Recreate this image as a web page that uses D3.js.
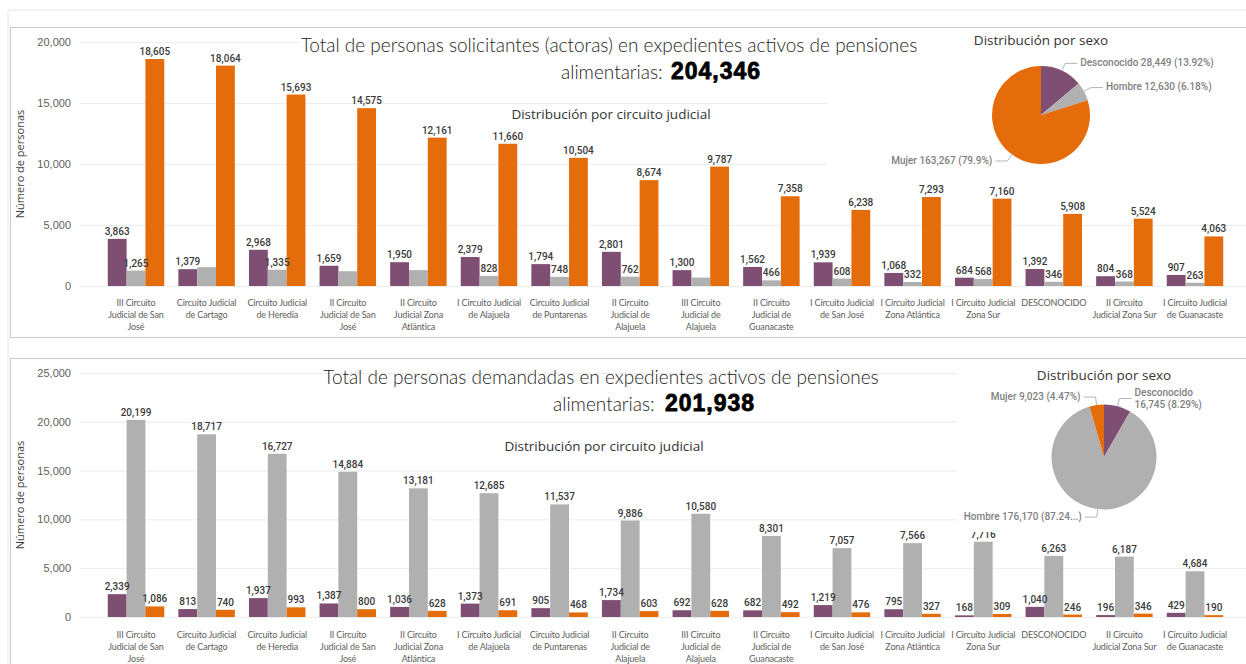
<!DOCTYPE html>
<html lang="es">
<head>
<meta charset="UTF-8">
<title>Pensiones alimentarias</title>
<script src="https://cdn.jsdelivr.net/npm/d3@7"></script>
<style>
  body { margin: 0; background: #fff; }
  svg { display: block; font-family: "Open Sans", sans-serif; }
  .grid line { stroke: #ececec; }
  .ytick { font-size: 11px; fill: #605E5C; }
  .xtick { font-family: Lato, sans-serif; font-size: 9px; letter-spacing: -0.15px; fill: #605E5C; }
  .dl { font-family: Roboto, sans-serif; font-size: 10px; fill: #3a3a3a; font-weight: 500; }
  .title { font-family: Lato, sans-serif; font-weight: 300; font-size: 19px; fill: #252423; }
  .total { font-family: "Liberation Sans", Arial, sans-serif; font-weight: 700; font-size: 23px; fill: #000; stroke: #000; stroke-width: 0.8px; letter-spacing: 1px; }
  .subtitle { font-family: "Open Sans", sans-serif; font-size: 13.5px; fill: #333; }
  .pl { font-family: Roboto, sans-serif; font-size: 10px; fill: #7f7f7f; font-weight: 500; }
</style>
</head>
<body>
<div id="chart"></div>
<script>
// categories (with the line breaks shown under the bars)
const categories = [
  "III Circuito\nJudicial de San\nJosé",
  "Circuito Judicial\nde Cartago",
  "Circuito Judicial\nde Heredia",
  "II Circuito\nJudicial de San\nJosé",
  "II Circuito\nJudicial Zona\nAtlántica",
  "I Circuito Judicial\nde Alajuela",
  "Circuito Judicial\nde Puntarenas",
  "II Circuito\nJudicial de\nAlajuela",
  "III Circuito\nJudicial de\nAlajuela",
  "II Circuito\nJudicial de\nGuanacaste",
  "I Circuito Judicial\nde San José",
  "I Circuito Judicial\nZona Atlántica",
  "I Circuito Judicial\nZona Sur",
  "DESCONOCIDO",
  "II Circuito\nJudicial Zona Sur",
  "I Circuito Judicial\nde Guanacaste"
]
const series = ["Desconocido", "Hombre", "Mujer"]
const colors = ["#7E4E73", "#B0B0B0", "#E46C0A"]

// personas solicitantes (actoras)
const actorasDesconocido = [3863, 1379, 2968, 1659, 1950, 2379, 1794, 2801, 1300, 1562, 1939, 1068, 684, 1392, 804, 907]
const actorasHombre = [1265, 1540, 1335, 1210, 1300, 828, 748, 762, 691, 466, 608, 332, 568, 346, 368, 263]
const actorasMujer = [18605, 18064, 15693, 14575, 12161, 11660, 10504, 8674, 9787, 7358, 6238, 7293, 7160, 5908, 5524, 4063]
const actorasTicks = [0, 5000, 10000, 15000, 20000]

// personas demandadas
const demandadasDesconocido = [2339, 813, 1937, 1387, 1036, 1373, 905, 1734, 692, 682, 1219, 795, 168, 1040, 196, 429]
const demandadasHombre = [20199, 18717, 16727, 14884, 13181, 12685, 11537, 9886, 10580, 8301, 7057, 7566, 7716, 6263, 6187, 4684]
const demandadasMujer = [1086, 740, 993, 800, 628, 691, 468, 603, 628, 492, 476, 327, 309, 246, 346, 190]
const demandadasTicks = [0, 5000, 10000, 15000, 20000, 25000]

const W = 1246, H = 664
const fmt = d3.format(",")
const pct = d3.format(".2~%")

const svg = d3.select("#chart").append("svg")
    .attr("width", W)
    .attr("height", H)

// outer frame + the two panels
svg.append("path")
    .attr("d", `M8,${H} V10 H${W}`)
    .attr("fill", "none").attr("stroke", "#e6e6e6")
svg.append("rect").attr("x", 10.5).attr("y", 27.5).attr("width", 1250).attr("height", 310)
    .attr("fill", "#fff").attr("stroke", "#c8c8c8")
svg.append("rect").attr("x", 10.5).attr("y", 358.5).attr("width", 1250).attr("height", 320)
    .attr("fill", "#fff").attr("stroke", "#c8c8c8")

const x = d3.scaleBand()
    .domain(categories)
    .range([100, 1231])
    .paddingInner(0.2)
    .paddingOuter(0.11)

const x1 = d3.scaleBand()
    .domain(series)
    .range([0, x.bandwidth()])

function drawPanel(p) {
    const g = svg.append("g")
    const y = d3.scaleLinear()
        .domain([0, d3.max(p.ticks)])
        .range([p.y0, p.yTop])

    // grid + y labels
    const yAxis = g.append("g")
        .attr("class", "grid")
        .attr("transform", "translate(80,0)")
        .call(d3.axisLeft(y).tickValues(p.ticks).tickSize(-(W - 80)).tickPadding(9).tickFormat(fmt))
    yAxis.select(".domain").remove()
    yAxis.selectAll("text").attr("class", "ytick").attr("fill", null)

    g.append("text")
        .attr("class", "ytick")
        .attr("transform", `translate(21,${p.yTitle}) rotate(-90)`)
        .attr("text-anchor", "middle")
        .attr("dominant-baseline", "middle")
        .style("fill", "#404040")
        .text("Número de personas")

    // x labels
    const xAxis = g.append("g")
        .attr("transform", `translate(0,${p.y0})`)
        .call(d3.axisBottom(x).tickSize(0))
    xAxis.select(".domain").remove()
    xAxis.selectAll("text")
        .attr("class", "xtick").attr("fill", null)
        .attr("y", 0).attr("dy", null)
        .each(function (d) {
            const t = d3.select(this).text(null)
            d.split("\n").forEach((line, k) => {
                t.append("tspan").attr("x", 0).attr("y", p.xLabelDy + k * 12).text(line)
            })
        })

    // bars
    const rows = categories.map((c, i) => p.values.map(v => v[i]))
    const groups = g.selectAll(".grp").data(rows).enter().append("g")
        .attr("transform", (d, i) => `translate(${x(categories[i])},0)`)
    groups.selectAll("rect").data(d => d).enter().append("rect")
        .attr("x", (d, j) => x1(series[j]))
        .attr("y", d => y(d))
        .attr("width", x1.bandwidth())
        .attr("height", d => p.y0 - y(d))
        .attr("fill", (d, j) => colors[j])

    // data labels, hiding the ones that collide with an earlier label of the group
    rows.forEach((vals, i) => {
        const placed = []
        vals.forEach((v, j) => {
            const cx = x(categories[i]) + x1(series[j]) + x1.bandwidth() / 2
            const by = y(v) - 4
            const t = g.append("text").attr("class", "dl")
                .attr("x", cx).attr("y", by)
                .attr("text-anchor", "middle")
                .text(fmt(v))
            const w = t.node().getComputedTextLength()
            const box = { x0: cx - w / 2, x1: cx + w / 2, y0: by - 8.5, y1: by }
            if (placed.some(b => b.x0 < box.x1 && box.x0 < b.x1 && b.y0 < box.y1 && box.y0 < b.y1)) t.remove()
            else placed.push(box)
        })
    })

    // white boxes behind title and pie
    p.boxes.forEach(b => {
        g.append("rect").attr("x", b[0]).attr("y", b[1]).attr("width", b[2]).attr("height", b[3]).attr("fill", "#fff")
    })

    // titles
    g.append("text").attr("class", "title")
        .attr("x", p.title1[0]).attr("y", p.title1[1])
        .attr("text-anchor", "middle")
        .text(p.titleText)
    g.append("text").attr("class", "title")
        .attr("x", p.title2[0]).attr("y", p.title2[1])
        .text("alimentarias:")
    g.append("text").attr("class", "total")
        .attr("x", p.title2[2]).attr("y", p.title2[1])
        .text(fmt(p.total))

    g.append("text").attr("class", "subtitle")
        .attr("x", p.sub[0]).attr("y", p.sub[1])
        .attr("text-anchor", "middle")
        .text("Distribución por circuito judicial")

    // pie by sex
    g.append("text").attr("class", "subtitle")
        .attr("x", p.pie[0]).attr("y", p.pieTitleY)
        .attr("text-anchor", "middle")
        .text("Distribución por sexo")

    const sums = p.values.map(v => d3.sum(v))
    const total = d3.sum(sums)
    const r = p.pie[2]
    const pieG = g.append("g").attr("transform", `translate(${p.pie[0]},${p.pie[1]})`)
    const arcs = d3.pie().sort(null)(sums)
    pieG.selectAll("path").data(arcs).enter().append("path")
        .attr("d", d3.arc().innerRadius(0).outerRadius(r))
        .attr("fill", (d, j) => colors[j])

    arcs.forEach((a, j) => {
        const m = (a.startAngle + a.endAngle) / 2
        const sx = Math.sin(m), sy = -Math.cos(m)
        const ex = (r + 8) * sx, ey = (r + 8) * sy
        const dir = sx >= 0 ? 1 : -1
        const hx = ex + dir * 12
        pieG.append("polyline")
            .attr("points", [[r * sx, r * sy], [ex, ey], [hx, ey]].map(q => q.join(",")).join(" "))
            .attr("fill", "none").attr("stroke", "#b5b5b5")
        const label = `${series[j]} ${fmt(sums[j])} (${pct(sums[j] / total)})`
        const t = pieG.append("text").attr("class", "pl")
            .attr("x", hx + dir * 3).attr("y", ey)
            .attr("text-anchor", dir > 0 ? "start" : "end")
            .attr("dominant-baseline", "middle")
            .text(label)
        const room = dir > 0 ? p.pieRight - (p.pie[0] + hx + 3) : (p.pie[0] + hx - 3) - p.pieLeft
        if (t.node().getComputedTextLength() > room) {
            if (dir > 0) {
                // wrap into two lines
                t.text(null)
                t.append("tspan").attr("x", hx + 3).attr("dy", "-0.6em").text(`${series[j]}`)
                t.append("tspan").attr("x", hx + 3).attr("dy", "1.2em").text(`${fmt(sums[j])} (${pct(sums[j] / total)})`)
            } else {
                // cut the end of the label
                t.text(label.replace("%)", "...)"))
            }
        }
    })
}

drawPanel({
    values: [actorasDesconocido, actorasHombre, actorasMujer],
    ticks: actorasTicks,
    y0: 286, yTop: 42, yTitle: 164, xLabelDy: 20,
    boxes: [[300, 29, 527, 52], [827, 29, 419, 148]],
    titleText: "Total de personas solicitantes (actoras) en expedientes activos de pensiones",
    title1: [609, 52], title2: [561, 79, 671], total: 204346,
    sub: [611, 119],
    pie: [1041, 115, 49], pieTitleY: 45, pieLeft: 835, pieRight: 1246
})

drawPanel({
    values: [demandadasDesconocido, demandadasHombre, demandadasMujer],
    ticks: demandadasTicks,
    y0: 617, yTop: 373, yTitle: 495, xLabelDy: 21,
    boxes: [[957, 360, 289, 172]],
    titleText: "Total de personas demandadas en expedientes activos de pensiones",
    title1: [601, 384], title2: [553, 411, 665], total: 201938,
    sub: [604, 451],
    pie: [1104, 457, 52.5], pieTitleY: 380, pieLeft: 968, pieRight: 1246
})
</script>
</body>
</html>
